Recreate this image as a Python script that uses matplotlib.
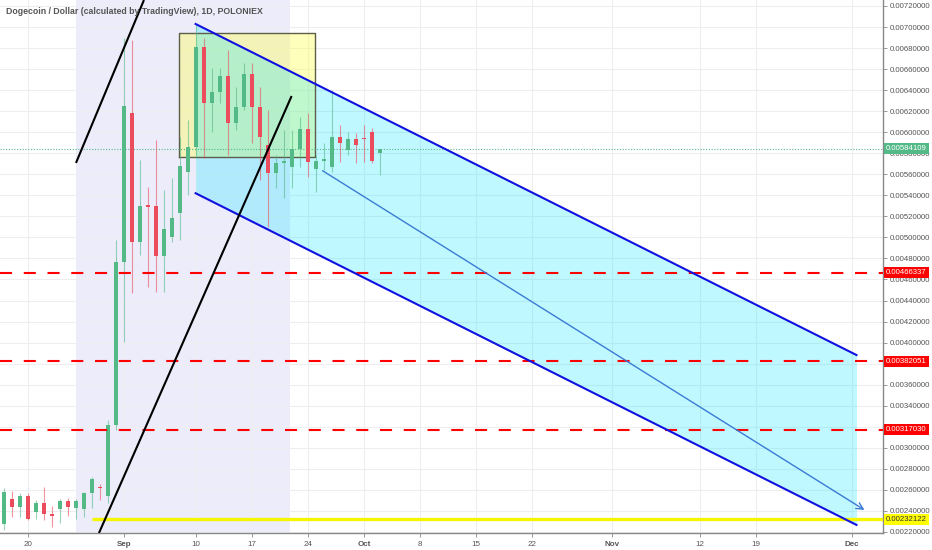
import matplotlib
matplotlib.use('Agg')
import matplotlib.pyplot as plt
import matplotlib.dates as mdates
import matplotlib.transforms as mtransforms
import pandas as pd

# ---------------- data ----------------
dates = pd.date_range('2018-08-17', '2018-10-03', freq='D')
opens = [0.002280, 0.002513, 0.002435, 0.002542, 0.002390, 0.002478, 0.002370, 0.002421,
         0.002494, 0.002428, 0.002421, 0.002568, 0.002630, 0.002542, 0.003217,
         0.004769, 0.006180, 0.004959, 0.005305, 0.005299, 0.004826, 0.005007, 0.005235,
         0.005619, 0.005857, 0.006807, 0.006281, 0.006385, 0.006537, 0.006085, 0.006237,
         0.006554, 0.006243, 0.005879, 0.005615, 0.005705, 0.005672, 0.005838, 0.006031,
         0.005651, 0.005724, 0.005672, 0.005952, 0.005831, 0.005933, 0.005948, 0.005999,
         0.005800]
highs = [0.002620, 0.002593, 0.002568, 0.002570, 0.002504, 0.002630, 0.002447, 0.002513,
         0.002520, 0.002510, 0.002583, 0.002726, 0.002660, 0.003265, 0.004976,
         0.006893, 0.006877, 0.005736, 0.005482, 0.005926, 0.005451, 0.005565, 0.005958,
         0.006116, 0.007019, 0.006893, 0.006611, 0.006611, 0.006782, 0.006433, 0.006655,
         0.006655, 0.006433, 0.006211, 0.005784, 0.006021, 0.006021, 0.006148, 0.006180,
         0.005784, 0.005898, 0.006401, 0.006069, 0.005999, 0.005990, 0.006069, 0.006037,
         0.005831]
lows = [0.002220, 0.002345, 0.002345, 0.002310, 0.002320, 0.002314, 0.002245, 0.002283,
        0.002350, 0.002320, 0.002345, 0.002428, 0.002500, 0.002476, 0.003169,
        0.004006, 0.004472, 0.004833, 0.004532, 0.004480, 0.004480, 0.004959, 0.004976,
        0.005403, 0.005755, 0.005755, 0.006005, 0.006278, 0.005784, 0.006021, 0.006211,
        0.005895, 0.005546, 0.005102, 0.005470, 0.005375, 0.005470, 0.005672, 0.005577,
        0.005435, 0.005641, 0.005625, 0.005720, 0.005784, 0.005705, 0.005720, 0.005705,
        0.005593]
closes = [0.002580, 0.002435, 0.002542, 0.002323, 0.002478, 0.002368, 0.002355, 0.002494,
          0.002435, 0.002498, 0.002568, 0.002704, 0.002615, 0.003217, 0.004769,
          0.006249, 0.004959, 0.005302, 0.005292, 0.004826, 0.005077, 0.005182, 0.005682,
          0.005857, 0.006807, 0.006281, 0.006385, 0.006537, 0.006085, 0.006237, 0.006554,
          0.006237, 0.005952, 0.005615, 0.005705, 0.005730, 0.005838, 0.006031, 0.005720,
          0.005727, 0.005743, 0.005952, 0.005895, 0.005933, 0.005879, 0.005933, 0.005730,
          0.00584109]

red_levels = [0.00466337, 0.00382051, 0.00317030]
yellow_level = 0.00232122
last_price = 0.00584109

y_ticks = [0.0022, 0.0024, 0.0026, 0.0028, 0.0030, 0.0032, 0.0034, 0.0036, 0.0038,
           0.0040, 0.0042, 0.0044, 0.0046, 0.0048, 0.0050, 0.0052, 0.0054, 0.0056,
           0.0058, 0.0060, 0.0062, 0.0064, 0.0066, 0.0068, 0.0070, 0.0072]
hidden_y_labels = [0.0032, 0.0038]   # covered by the level tags
x_tick_dates = ['2018-08-20', '2018-09-01', '2018-09-10', '2018-09-17', '2018-09-24',
                '2018-10-01', '2018-10-08', '2018-10-15', '2018-10-22', '2018-11-01',
                '2018-11-12', '2018-11-19', '2018-12-01']
x_tick_labels = ['20', 'Sep', '10', '17', '24', 'Oct', '8', '15', '22', 'Nov', '12', '19', 'Dec']
month_labels = ['Sep', 'Oct', 'Nov', 'Dec']

# drawing anchors (date, price)
highlight_range = ('2018-08-26 00:00', '2018-09-21 18:00')
black_line_1 = (('2018-08-26 00:00', 0.005708), ('2018-09-03 12:00', 0.007257))
black_line_2 = (('2018-08-28 21:00', 0.002190), ('2018-09-21 23:00', 0.006344))
box = (('2018-09-07 22:00', 0.005762), ('2018-09-24 22:00', 0.006940))
chan_upper = (('2018-09-09 23:00', 0.007029), ('2018-12-01 14:00', 0.003882))
chan_lower = (('2018-09-09 23:00', 0.005420), ('2018-12-01 14:00', 0.002267))
arrow_pts = (('2018-09-25 20:00', 0.005634), ('2018-12-02 14:00', 0.002409))
yellow_start = '2018-08-27 23:00'

# ---------------- figure ----------------
plt.rcParams['font.family'] = ['Liberation Sans', 'DejaVu Sans']
W, H = 932, 550
fig = plt.figure(figsize=(W / 100, H / 100), dpi=100)
fig.patch.set_facecolor('white')
ax = fig.add_axes([0, 17 / H, 883 / W, 533 / H])

d = lambda s: mdates.date2num(pd.Timestamp(s))
x0 = d('2018-08-20')
ax.set_xlim(x0 - 3.5, x0 + 106.9)
ax.set_ylim(0.002190, 0.007257)

# grid
for t in x_tick_dates:
    ax.axvline(d(t), color='#eeeef0', lw=0.8, zorder=0.5)
for t in y_ticks:
    ax.axhline(t, color='#eeeef0', lw=0.8, zorder=0.5)

# lavender highlight
ax.axvspan(d(highlight_range[0]), d(highlight_range[1]), color='#ececfb', zorder=0.2, lw=0)

# yellow box
(bx0, by0), (bx1, by1) = box
ax.fill_between([d(bx0), d(bx1)], by0, by1, color='#ffff40', alpha=0.35, lw=0, zorder=1)
ax.plot([d(bx0), d(bx1), d(bx1), d(bx0), d(bx0)], [by0, by0, by1, by1, by0],
        color='#5e5e48', lw=1.0, zorder=1.2)

# channel fill
ux = [d(chan_upper[0][0]), d(chan_upper[1][0])]
uy = [chan_upper[0][1], chan_upper[1][1]]
ly = [chan_lower[0][1], chan_lower[1][1]]
ax.fill_between(ux, ly, uy, color='#00e5ff', alpha=0.25, lw=0, zorder=1.1)

# horizontal levels
ax.axhline(last_price, color='#53b987', lw=0.8, ls=(0, (1, 1.5)), zorder=2)
for lv in red_levels:
    ax.axhline(lv, color='#ff0000', lw=1.5, ls=(0, (5.8, 5.6)), zorder=4)
ax.plot([d(yellow_start), ax.get_xlim()[1]], [yellow_level, yellow_level],
        color='#f5f500', lw=2.4, zorder=4, solid_capstyle='butt')

# candles
xs = mdates.date2num(dates)
for x, o, h, l, c in zip(xs, opens, highs, lows, closes):
    col = '#53b987' if c >= o else '#eb4d5c'
    ax.vlines(x, l, h, color=col, lw=0.8, alpha=0.6, zorder=3)
    lo, hi = min(o, c), max(o, c)
    if hi - lo < 0.000015:
        mid = (hi + lo) / 2
        lo, hi = mid - 0.0000075, mid + 0.0000075
    ax.bar(x, hi - lo, bottom=lo, width=0.6, color=col, lw=0, zorder=3.2)

# channel lines
ax.plot(ux, uy, color='#1010e0', lw=1.5, zorder=5)
ax.plot(ux, ly, color='#1010e0', lw=1.5, zorder=5)

# black lines
for ln in (black_line_1, black_line_2):
    ax.plot([d(ln[0][0]), d(ln[1][0])], [ln[0][1], ln[1][1]], color='black', lw=1.5,
            zorder=5, solid_capstyle='butt')

# arrow
ax.annotate('', xy=(d(arrow_pts[1][0]), arrow_pts[1][1]),
            xytext=(d(arrow_pts[0][0]), arrow_pts[0][1]),
            arrowprops=dict(arrowstyle='->', color='#3a7bd5', lw=1.0,
                            mutation_scale=12, shrinkA=0, shrinkB=0), zorder=5)

# axes styling
for s in ('top', 'left'):
    ax.spines[s].set_visible(False)
for s in ('right', 'bottom'):
    ax.spines[s].set_color('#888888')
    ax.spines[s].set_linewidth(1.0)
ax.yaxis.tick_right()
ax.set_yticks(y_ticks)
ax.set_yticklabels(['' if any(abs(v - h) < 1e-9 for h in hidden_y_labels) else '%.8f' % v
                    for v in y_ticks])
ax.tick_params(axis='y', length=3, width=0.6, color='#888888', labelsize=5.6,
               labelcolor='#555555', pad=2)
ax.set_xticks([d(t) for t in x_tick_dates])
ax.set_xticklabels(x_tick_labels)
ax.tick_params(axis='x', length=3, width=0.6, color='#888888', labelsize=5.8,
               labelcolor='#555555', pad=3)
for lbl in ax.get_xticklabels():
    if lbl.get_text() in month_labels:
        lbl.set_fontweight('bold')

# price labels on axis
tr = mtransforms.blended_transform_factory(ax.transAxes, ax.transData)
def price_tag(v, fc, tc):
    ax.text(1.0 + 3 / 883, v, '%.8f' % v, transform=tr, ha='left', va='center',
            fontsize=5.6, color=tc, zorder=10, clip_on=False,
            bbox=dict(boxstyle='square,pad=0.25', fc=fc, ec='none'))
price_tag(last_price, '#53b987', 'white')
for lv in red_levels:
    price_tag(lv, '#ff0000', 'white')
price_tag(yellow_level, '#ffff00', '#333333')

fig.text(6 / W, 1 - 11 / H, 'Dogecoin / Dollar (calculated by TradingView), 1D, POLONIEX',
         fontsize=6.3, fontweight='bold', color='#555555', va='center', ha='left', zorder=10)

fig.savefig('out.png', dpi=100)
